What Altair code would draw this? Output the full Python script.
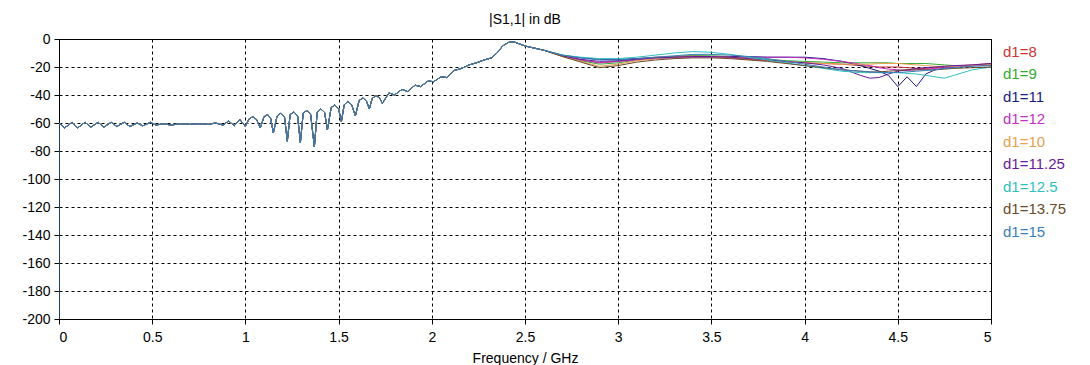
import altair as alt
import pandas as pd

# Common part of all curves (0 - 2.5 GHz), where the nine traces overlap
base_freq = [0.00, 0.03, 0.07, 0.10, 0.14, 0.17, 0.21, 0.24, 0.28, 0.31, 0.35, 0.38,
             0.42, 0.45, 0.49, 0.52, 0.56, 0.60, 0.65, 0.70, 0.75, 0.80, 0.84, 0.88,
             0.91, 0.94, 0.97, 1.00, 1.02, 1.04, 1.06, 1.08, 1.10, 1.12, 1.135, 1.15,
             1.17, 1.19, 1.21, 1.225, 1.24, 1.26, 1.28, 1.295, 1.31, 1.33, 1.35, 1.37,
             1.385, 1.405, 1.425, 1.44, 1.46, 1.48, 1.50, 1.515, 1.53, 1.55, 1.57, 1.59,
             1.61, 1.63, 1.65, 1.665, 1.68, 1.70, 1.72, 1.735, 1.77, 1.80, 1.84, 1.87,
             1.91, 1.94, 1.98, 2.01, 2.05, 2.08, 2.12, 2.16, 2.20, 2.24, 2.28, 2.32,
             2.35, 2.38, 2.41, 2.44, 2.47]
base_db = [-60, -63.5, -59.5, -63.5, -59.5, -63, -59.5, -63, -59.5, -62.5, -59.5, -62.5,
           -60, -62, -59.5, -61.5, -60.5, -61.5, -60.5, -61, -60.5, -61, -60, -61.5,
           -58.5, -62, -57.5, -62.5, -57, -55.5, -57.5, -63.5, -55.5, -54, -56.5, -67,
           -55, -53, -56, -73, -54, -52, -55, -74, -53, -51, -54, -77,
           -52.5, -50, -52.5, -65, -49, -47, -50, -59, -47, -44.5, -47, -55,
           -44, -42, -44.5, -50, -42.5, -40.5, -42, -46, -38.5, -40, -36, -37.5,
           -33, -34, -30, -30.5, -27, -27.5, -22.5, -21, -18.5, -17, -15, -13.5,
           -10, -5, -2.5, -2, -3.5]

# Spread part (2.5 - 5 GHz), one list per trace
tail_freq = [2.5, 2.6, 2.7, 2.8, 2.9, 3.0, 3.1, 3.2, 3.3, 3.4, 3.5, 3.6, 3.7, 3.8, 3.9,
             4.0, 4.1, 4.2, 4.3, 4.35, 4.4, 4.45, 4.5, 4.55, 4.6, 4.65, 4.7, 4.75, 4.8,
             4.9, 5.0]
tails = {
    "d1=8":     [-5, -8, -12, -15, -17, -16, -14, -13, -12.5, -12, -12.5, -13.5, -14.5, -15.5, -16.5,
                 -17, -17.5, -18, -19, -19.5, -20, -20, -20, -20.5, -21, -21, -20.5, -20, -19.5, -18.5, -17.5],
    "d1=9":     [-5, -8, -12, -15.5, -18, -17, -15, -13.5, -12.5, -12, -12, -12.5, -13.5, -14.5, -15.5,
                 -16, -16.5, -17, -17, -17, -17, -17, -17.5, -17.5, -17.5, -17.5, -18, -18.5, -19, -19, -18.5],
    "d1=11":    [-5, -8, -11.5, -13.5, -14.5, -14.5, -14, -13.5, -13, -12.5, -12.5, -12.5, -12.5, -13, -13,
                 -13, -14, -16, -19, -21, -23, -26, -34, -27, -34, -25, -22, -21, -20, -19, -18],
    "d1=12":    [-5, -8, -12, -15, -17, -16, -15, -14, -13.5, -13, -13, -13, -13, -13, -13,
                 -13.5, -14.5, -16, -18, -19, -20.5, -21.5, -22, -22.5, -22, -21.5, -21, -20.5, -20, -19, -18.5],
    "d1=10":    [-5, -8, -12.5, -16, -19.5, -18, -15.5, -14, -13, -12.5, -12.5, -13, -14, -15, -16,
                 -17, -17.5, -18, -18, -18, -17.5, -17.5, -17.5, -18, -18.5, -19, -19.5, -19.5, -19.5, -19, -18],
    "d1=11.25": [-5, -8, -12, -14.5, -16, -15.5, -14.5, -13.5, -13, -12.5, -12.5, -13, -14, -15, -16,
                 -17, -18.5, -21, -26, -28, -27.5, -25, -23, -22, -21, -20.5, -20, -19.5, -19, -18.5, -17.5],
    "d1=12.5":  [-5, -8, -11.5, -13, -14, -14, -13, -11.5, -10, -9, -9.5, -11, -13, -15, -17,
                 -19, -21, -23, -24, -24, -24, -24, -24, -24.5, -25, -26, -27, -28, -26, -22, -20],
    "d1=13.75": [-5, -8, -12.5, -16.5, -20.5, -19, -16.5, -15, -14, -13.5, -13.5, -14, -15, -16, -17.5,
                 -19, -20.5, -22, -23, -23.5, -23.5, -23, -22.5, -22, -22, -22, -22, -21.5, -21, -20.5, -20],
    "d1=15":    [-5, -8, -11.5, -13.5, -15, -15, -14, -13, -12, -11, -11, -11.5, -12.5, -14, -16,
                 -18, -20, -22, -23, -23.5, -24, -24, -24, -23.5, -23, -22.5, -22, -21, -20.5, -19.5, -19],
}
series_names = ["d1=8", "d1=9", "d1=11", "d1=12", "d1=10", "d1=11.25", "d1=12.5", "d1=13.75", "d1=15"]
series_colors = ["#cc3333", "#33aa33", "#1a1a80", "#c030c0", "#e8a050", "#6a1a9a", "#30c0c0", "#6b4a2a", "#3a80b8"]

# d1=15 starts from the floor of the axis at 0 GHz
start_point = {"d1=15": -200}

rows = []
for name in series_names:
    k = 0
    if name in start_point:
        rows.append({"series": name, "f": 0.0, "db": start_point[name], "k": k})
        k += 1
    for f, v in zip(base_freq, base_db):
        rows.append({"series": name, "f": f, "db": v, "k": k})
        k += 1
    for f, v in zip(tail_freq, tails[name]):
        rows.append({"series": name, "f": f, "db": v, "k": k})
        k += 1
df = pd.DataFrame(rows)

x_ticks = [0, 0.5, 1, 1.5, 2, 2.5, 3, 3.5, 4, 4.5, 5]
y_ticks = list(range(-200, 1, 20))

FONT = "Liberation Sans"

chart = alt.Chart(df).mark_line(strokeWidth=1, clip=True).encode(
    x=alt.X("f:Q", scale=alt.Scale(domain=[0, 5], nice=False),
            axis=alt.Axis(values=x_ticks, title="Frequency / GHz", labelExpr="datum.value + ''",
                          titlePadding=7)),
    y=alt.Y("db:Q", scale=alt.Scale(domain=[-200, 0], nice=False),
            axis=alt.Axis(values=y_ticks, title=None, labelExpr="datum.value + ''")),
    color=alt.Color("series:N", scale=alt.Scale(domain=series_names, range=series_colors),
                    legend=alt.Legend(title=None, orient="none", legendX=925, legendY=5,
                                      symbolSize=0, symbolStrokeWidth=0, symbolOpacity=0,
                                      labelOffset=4, rowPadding=6.5, padding=0,
                                      labelFont=FONT, labelFontSize=15,
                                      labelColor={"expr": "scale('color', datum.value)"})),
    detail="series:N",
    order="k:Q",
).properties(
    width=932, height=280,
    title=alt.Title("|S1,1| in dB", fontSize=14, font=FONT, fontWeight="normal",
                    color="black", offset=5, frame="group", anchor="middle"),
    autosize=alt.AutoSizeParams(type="none"),
    padding={"left": 51, "top": 31, "right": 90, "bottom": 46},
).configure_view(
    stroke="black", strokeWidth=1
).configure_axis(
    domainColor="black", tickColor="black", gridColor="black", gridDash=[3, 3],
    gridOpacity=1, gridWidth=1, labelColor="black", labelFont=FONT, labelFontSize=14,
    titleFont=FONT, titleFontSize=14, titleFontWeight="normal", titleColor="black",
    tickSize=5, labelPadding=4,
).configure_axisX(labelPadding=6)

chart.save("out.html", embed_options={"renderer": "svg", "actions": False})
